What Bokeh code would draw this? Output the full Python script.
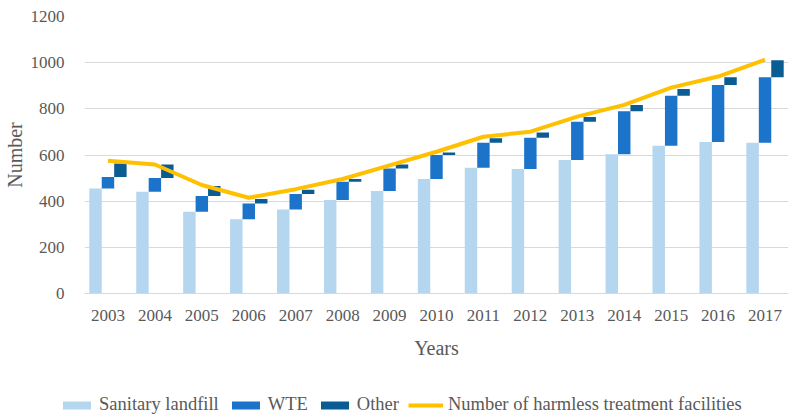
from bokeh.plotting import figure
from bokeh.models import Range1d, FactorRange, Legend, LegendItem, ColumnDataSource, FixedTicker
from bokeh.transform import dodge
from bokeh.embed import file_html
from bokeh.resources import INLINE

years = ["2003", "2004", "2005", "2006", "2007", "2008", "2009", "2010",
         "2011", "2012", "2013", "2014", "2015", "2016", "2017"]
landfill = [455, 441, 354, 322, 364, 405, 444, 496, 545, 539, 578, 603, 640, 656, 653]
wte = [50, 59, 68, 68, 67, 79, 97, 104, 108, 136, 166, 186, 217, 247, 284]
other = [58, 59, 44, 19, 18, 12, 18, 11, 20, 23, 21, 28, 29, 34, 74]
total = [575, 559, 470, 415, 452, 496, 555, 614, 679, 701, 766, 817, 892, 940, 1013]
y_ticks = [0, 200, 400, 600, 800, 1000, 1200]
series_names = ["Sanitary landfill", "WTE", "Other", "Number of harmless treatment facilities"]

wte_top = [a + b for a, b in zip(landfill, wte)]
other_top = [a + b for a, b in zip(wte_top, other)]

src = ColumnDataSource(dict(year=years, landfill=landfill, wte_bottom=landfill, wte_top=wte_top,
                            other_bottom=wte_top, other_top=other_top, total=total))

FONT = "Liberation Serif"
TXT = "#595959"
C_LF, C_WTE, C_OTH, C_LINE = "#B4D6EE", "#1B74CA", "#0B5C92", "#FFC000"

p = figure(x_range=FactorRange(*years, range_padding=0), y_range=Range1d(0, 1200),
           width=796, height=372, output_backend="svg", toolbar_location=None,
           min_border_left=84, min_border_right=8, min_border_top=16, min_border_bottom=79)
p.outline_line_color = None
p.xgrid.grid_line_color = None
p.ygrid.grid_line_color = "#d9d9d9"
p.ygrid.grid_line_width = 1
p.yaxis.ticker = FixedTicker(ticks=y_ticks)

for ax in p.axis:
    ax.major_tick_line_color = None
    ax.minor_tick_line_color = None
    ax.major_label_text_font = FONT
    ax.major_label_text_font_size = "17px"
    ax.major_label_text_color = TXT
    ax.axis_label_text_font = FONT
    ax.axis_label_text_font_size = "20px"
    ax.axis_label_text_font_style = "normal"
    ax.axis_label_text_color = TXT

p.yaxis.axis_line_color = None
p.yaxis.major_label_standoff = 14
p.yaxis.axis_label = "Number"
p.yaxis.axis_label_standoff = 2
p.xaxis.axis_line_color = "#d9d9d9"
p.xaxis.major_label_standoff = 10
p.xaxis.axis_label = "Years"
p.xaxis.axis_label_standoff = 13

w = 0.265
p.vbar(x=dodge("year", -w, range=p.x_range), bottom=0, top="landfill", width=w,
       source=src, fill_color=C_LF, line_color=None)
p.vbar(x=dodge("year", 0, range=p.x_range), bottom="wte_bottom", top="wte_top", width=w,
       source=src, fill_color=C_WTE, line_color=None)
p.vbar(x=dodge("year", w, range=p.x_range), bottom="other_bottom", top="other_top", width=w,
       source=src, fill_color=C_OTH, line_color=None)
p.line(x="year", y="total", source=src, line_color=C_LINE, line_width=4)

# legend strip (legend glyphs only; the placeholder rows hold NaN and draw nothing)
lg = figure(width=796, height=46, output_backend="svg", toolbar_location=None,
            x_range=Range1d(0, 1), y_range=Range1d(0, 1), x_axis_type=None, y_axis_type=None,
            min_border_left=0, min_border_right=0, min_border_top=0, min_border_bottom=0)
lg.outline_line_color = None
lg.grid.grid_line_color = None
nan = float("nan")
empty = ColumnDataSource(dict(x=[nan], y=[nan]))
g1 = lg.vbar(x="x", top="y", width=1, source=empty, fill_color=C_LF, line_color=None)
g2 = lg.vbar(x="x", top="y", width=1, source=empty, fill_color=C_WTE, line_color=None)
g3 = lg.vbar(x="x", top="y", width=1, source=empty, fill_color=C_OTH, line_color=None)
g4 = lg.line(x="x", y="y", source=empty, line_color=C_LINE, line_width=4)

legend = Legend(items=[LegendItem(label=n, renderers=[r]) for n, r in zip(series_names, [g1, g2, g3, g4])],
                orientation="horizontal", location=(59, 3),
                glyph_width=35, glyph_height=10, label_standoff=5, spacing=9,
                padding=0, margin=0, border_line_color=None, background_fill_alpha=0,
                label_text_font=FONT, label_text_font_size="18.5px", label_text_color=TXT,
                label_height=20)
lg.add_layout(legend)

open("out.html", "w").write(file_html([p, lg], INLINE))
